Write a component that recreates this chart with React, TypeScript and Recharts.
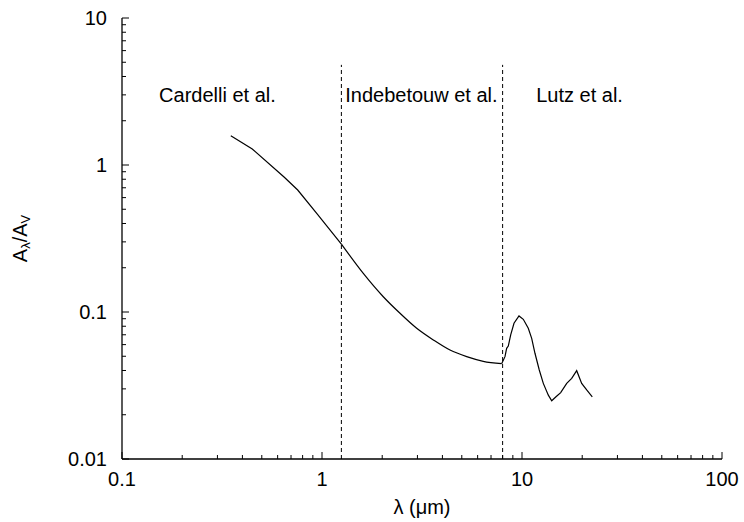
import { LineChart, Line, XAxis, YAxis, ReferenceLine, ReferenceDot } from 'recharts'

// wavelength (um) and A_lambda / A_V, per regime
const cardelliLambda = [0.35, 0.448, 0.648, 0.756, 0.941, 1.25]
const cardelliExt = [1.58, 1.285, 0.825, 0.676, 0.469, 0.29]

const indebetouwLambda = [1.25, 1.609, 2.025, 2.455, 2.975, 3.6, 4.365, 5.29, 6.4, 7.91]
const indebetouwExt = [0.29, 0.183, 0.127, 0.098, 0.0775, 0.0646, 0.0551, 0.0497, 0.0462, 0.0445]

const lutzLambda = [
    7.91, 8.22, 8.38, 8.54, 8.78, 9.12, 9.66, 10.15, 10.75, 11.18, 11.61, 12.2, 12.78, 13.54, 14.08,
    14.79, 15.61, 16.73, 17.72, 18.77, 19.88, 21.06, 22.46,
]
const lutzExt = [
    0.0445, 0.0497, 0.0566, 0.0587, 0.0698, 0.0838, 0.094, 0.0892, 0.0775, 0.0662, 0.0524, 0.0403,
    0.0327, 0.0272, 0.0249, 0.0265, 0.0283, 0.0327, 0.0354, 0.0399, 0.0327, 0.0295, 0.0265,
]

// regime boundaries (um) and how high the dashed lines reach
const boundaries = [1.25, 8]
const boundaryTop = 4.8

const regimeNames = ['Cardelli et al.', 'Indebetouw et al.', 'Lutz et al.']
const regimeLabelLambda = [0.3, 3.14, 19.4]
const regimeLabelExt = 3

const xTicks = [
    0.1, 0.2, 0.3, 0.4, 0.5, 0.6, 0.7, 0.8, 0.9, 1, 2, 3, 4, 5, 6, 7, 8, 9, 10, 20, 30, 40, 50,
    60, 70, 80, 90, 100,
]
const xMajor = [0.1, 1, 10, 100]
const yTicks = [
    0.01, 0.02, 0.03, 0.04, 0.05, 0.06, 0.07, 0.08, 0.09, 0.1, 0.2, 0.3, 0.4, 0.5, 0.6, 0.7, 0.8,
    0.9, 1, 2, 3, 4, 5, 6, 7, 8, 9, 10,
]
const yMajor = [0.01, 0.1, 1, 10]

const toRows = (ls: number[], es: number[]) => ls.map((l, i) => ({ lambda: l, ext: es[i] }))
const cardelliData = toRows(cardelliLambda, cardelliExt)
const indebetouwData = toRows(indebetouwLambda, indebetouwExt)
const lutzData = toRows(lutzLambda, lutzExt)

const FONT = '"Liberation Sans", Arial, Helvetica, sans-serif'
const MAJOR = 7
const MINOR = 4

// eslint-disable-next-line @typescript-eslint/no-explicit-any
const tickFor = (side: 'bottom' | 'top' | 'left' | 'right', majors: number[]) => (props: any) => {
    const { x, y, payload } = props
    const v = payload.value
    const major = majors.includes(v)
    const len = major ? MAJOR : MINOR
    let line
    if (side === 'bottom') line = <line x1={x} y1={y} x2={x} y2={y - len} stroke="#000" />
    else if (side === 'top') line = <line x1={x} y1={y} x2={x} y2={y + len} stroke="#000" />
    else if (side === 'left') line = <line x1={x} y1={y} x2={x + len} y2={y} stroke="#000" />
    else line = <line x1={x} y1={y} x2={x - len} y2={y} stroke="#000" />
    return (
        <g>
            {line}
            {major && side === 'bottom' && (
                <text x={x} y={y + 27} textAnchor="middle" fontSize={20} fontFamily={FONT} fill="#000">
                    {String(v)}
                </text>
            )}
            {major && side === 'left' && (
                <text x={x - 15} y={y + 7} textAnchor="end" fontSize={20} fontFamily={FONT} fill="#000">
                    {String(v)}
                </text>
            )}
        </g>
    )
}

export default function App() {
    return (
        <div style={{ position: 'fixed', left: 0, top: 0, width: 744, height: 522, background: '#fff' }}>
            <LineChart
                width={744}
                height={522}
                margin={{ top: 18, right: 22, bottom: 0, left: 0 }}
                style={{ fontFamily: FONT }}
            >
                <XAxis
                    xAxisId="bottom"
                    dataKey="lambda"
                    type="number"
                    scale="log"
                    domain={[0.1, 100]}
                    ticks={xTicks}
                    interval={0}
                    allowDataOverflow
                    height={63}
                    tickSize={0}
                    tickMargin={0}
                    tickLine={false}
                    axisLine={{ stroke: '#000', strokeWidth: 1.3 }}
                    tick={tickFor('bottom', xMajor)}
                    label={{
                        content: (p: any) => {
                            const vb = p.viewBox
                            return (
                                <text x={vb.x + vb.width / 2} y={514} textAnchor="middle" fontSize={20} fontFamily={FONT} fill="#000">
                                    λ (μm)
                                </text>
                            )
                        },
                    }}
                />
                <XAxis
                    xAxisId="top"
                    orientation="top"
                    dataKey="lambda"
                    type="number"
                    scale="log"
                    domain={[0.1, 100]}
                    ticks={xTicks}
                    interval={0}
                    allowDataOverflow
                    height={0}
                    tickSize={0}
                    tickMargin={0}
                    tickLine={false}
                    axisLine={{ stroke: '#000', strokeWidth: 1.3 }}
                    tick={tickFor('top', xMajor)}
                />
                <YAxis
                    yAxisId="left"
                    type="number"
                    scale="log"
                    domain={[0.01, 10]}
                    ticks={yTicks}
                    interval={0}
                    allowDataOverflow
                    width={122}
                    tickSize={0}
                    tickMargin={0}
                    tickLine={false}
                    axisLine={{ stroke: '#000', strokeWidth: 1.3 }}
                    tick={tickFor('left', yMajor)}
                    label={{
                        content: (p: any) => {
                            const vb = p.viewBox
                            const cy = vb.y + vb.height / 2
                            return (
                                <text transform={`translate(27, ${cy}) rotate(-90)`} x={0} y={0} textAnchor="middle" fontSize={20} fontFamily={FONT} fill="#000">
                                    A<tspan fontSize={13} dy={3}>λ</tspan>
                                    <tspan dy={-3}>/A</tspan>
                                    <tspan fontSize={13} dy={3}>V</tspan>
                                </text>
                            )
                        },
                    }}
                />
                <YAxis
                    yAxisId="right"
                    orientation="right"
                    type="number"
                    scale="log"
                    domain={[0.01, 10]}
                    ticks={yTicks}
                    interval={0}
                    allowDataOverflow
                    width={0}
                    tickSize={0}
                    tickMargin={0}
                    tickLine={false}
                    axisLine={{ stroke: '#000', strokeWidth: 1.3 }}
                    tick={tickFor('right', yMajor)}
                />
                {boundaries.map((b) => (
                    <ReferenceLine
                        key={b}
                        xAxisId="bottom"
                        yAxisId="left"
                        segment={[
                            { x: b, y: 0.01 },
                            { x: b, y: boundaryTop },
                        ]}
                        stroke="#000"
                        strokeWidth={1}
                        strokeDasharray="4 3"
                    />
                ))}
                {regimeNames.map((name, i) => (
                    <ReferenceDot
                        key={name}
                        xAxisId="bottom"
                        yAxisId="left"
                        x={regimeLabelLambda[i]}
                        y={regimeLabelExt}
                        r={0}
                        fill="none"
                        stroke="none"
                        label={{ value: name, position: 'center', fontSize: 20, fill: '#000' }}
                    />
                ))}
                <Line
                    xAxisId="bottom"
                    yAxisId="left"
                    data={cardelliData}
                    dataKey="ext"
                    type="linear"
                    stroke="#000"
                    strokeWidth={1.2}
                    dot={false}
                    isAnimationActive={false}
                />
                <Line
                    xAxisId="bottom"
                    yAxisId="left"
                    data={indebetouwData}
                    dataKey="ext"
                    type="monotone"
                    stroke="#000"
                    strokeWidth={1.2}
                    dot={false}
                    isAnimationActive={false}
                />
                <Line
                    xAxisId="bottom"
                    yAxisId="left"
                    data={lutzData}
                    dataKey="ext"
                    type="linear"
                    stroke="#000"
                    strokeWidth={1.2}
                    dot={false}
                    isAnimationActive={false}
                />
            </LineChart>
        </div>
    )
}
